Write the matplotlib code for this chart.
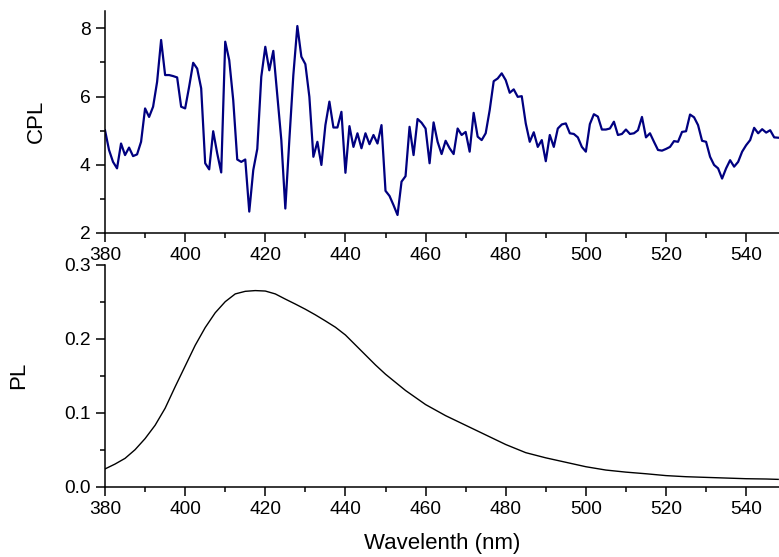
import numpy as np
import matplotlib
matplotlib.use("Agg")
import matplotlib.pyplot as plt
from matplotlib.ticker import MultipleLocator, FormatStrFormatter

plt.rcParams['font.family'] = ['Liberation Sans', 'DejaVu Sans']

# CPL spectrum, 1 nm steps from 380 to 548 nm
cpl_wl = np.arange(380, 549)
cpl = [
    5.01, 4.43, 4.08, 3.89, 4.62, 4.28, 4.50, 4.25, 4.30, 4.67,   # 380-389
    5.65, 5.40, 5.70, 6.43, 7.66, 6.63, 6.63, 6.60, 6.56, 5.70,   # 390-399
    5.65, 6.29, 6.99, 6.82, 6.24, 4.04, 3.86, 4.98, 4.33, 3.77,   # 400-409
    7.61, 7.07, 5.89, 4.15, 4.08, 4.15, 2.62, 3.84, 4.46, 6.58,   # 410-419
    7.46, 6.77, 7.34, 6.04, 4.72, 2.71, 4.72, 6.63, 8.07, 7.17,   # 420-429
    6.95, 5.99, 4.23, 4.67, 3.99, 5.16, 5.85, 5.09, 5.09, 5.55,   # 430-439
    3.76, 5.13, 4.52, 4.92, 4.48, 4.92, 4.60, 4.87, 4.62, 5.16,   # 440-449
    3.23, 3.08, 2.81, 2.52, 3.50, 3.66, 5.11, 4.28, 5.34, 5.23,   # 450-459
    5.06, 4.04, 5.24, 4.67, 4.31, 4.70, 4.48, 4.31, 5.06, 4.87,   # 460-469
    4.96, 4.38, 5.52, 4.82, 4.72, 4.92, 5.60, 6.45, 6.53, 6.68,   # 470-479
    6.48, 6.11, 6.21, 5.99, 6.01, 5.21, 4.67, 4.95, 4.52, 4.72,   # 480-489
    4.10, 4.87, 4.52, 5.06, 5.18, 5.21, 4.92, 4.90, 4.80, 4.52,   # 490-499
    4.38, 5.19, 5.48, 5.41, 5.03, 5.03, 5.06, 5.26, 4.87, 4.90,   # 500-509
    5.03, 4.90, 4.92, 5.01, 5.40, 4.80, 4.92, 4.67, 4.43, 4.41,   # 510-519
    4.46, 4.52, 4.69, 4.67, 4.96, 4.98, 5.47, 5.39, 5.16, 4.70,   # 520-529
    4.67, 4.23, 3.99, 3.89, 3.59, 3.89, 4.13, 3.94, 4.08, 4.38,   # 530-539
    4.57, 4.72, 5.08, 4.92, 5.04, 4.94, 5.01, 4.80, 4.79,         # 540-548
]

# PL spectrum
pl_wl = [380, 382.5, 385, 387.5, 390, 392.5, 395, 397.5, 400, 402.5, 405,
         407.5, 410, 412.5, 415, 417.5, 420, 422.5, 425, 427.5, 430, 432.5,
         435, 437.5, 440, 442.5, 445, 447.5, 450, 455, 460, 465, 470, 475,
         480, 485, 490, 495, 500, 505, 510, 515, 520, 525, 530, 535, 540,
         545, 548]
pl = [0.024, 0.0306, 0.0383, 0.050, 0.065, 0.083, 0.106, 0.135, 0.163,
      0.191, 0.215, 0.235, 0.250, 0.2605, 0.264, 0.265, 0.2644, 0.2605,
      0.2535, 0.2468, 0.2398, 0.2322, 0.2240, 0.2155, 0.2050, 0.1915, 0.1780,
      0.1645, 0.152, 0.130, 0.111, 0.096, 0.083, 0.070, 0.057, 0.046, 0.039,
      0.033, 0.027, 0.0225, 0.0197, 0.0175, 0.015, 0.0135, 0.0126, 0.0117,
      0.0108, 0.0104, 0.0099]

fig = plt.figure(figsize=(7.79, 5.57), dpi=100)
ax1 = fig.add_axes([0.1348, 0.5822, 0.8652, 0.3986])
ax2 = fig.add_axes([0.1348, 0.1262, 0.8652, 0.3986])

ax1.plot(cpl_wl, cpl, color='#000080', lw=1.6)
ax2.plot(pl_wl, pl, color='black', lw=1.0)

ax1.set_ylim(2, 8.52)
ax1.yaxis.set_major_locator(MultipleLocator(2))
ax1.yaxis.set_minor_locator(MultipleLocator(1))
ax2.set_ylim(0, 0.3)
ax2.yaxis.set_major_locator(MultipleLocator(0.1))
ax2.yaxis.set_minor_locator(MultipleLocator(0.05))
ax2.yaxis.set_major_formatter(FormatStrFormatter('%.1f'))

for ax in (ax1, ax2):
    ax.set_xlim(380, 548.2)
    ax.xaxis.set_major_locator(MultipleLocator(20))
    ax.xaxis.set_minor_locator(MultipleLocator(10))
    ax.spines['top'].set_visible(False)
    ax.spines['right'].set_visible(False)
    ax.spines['left'].set_linewidth(1.1)
    ax.spines['bottom'].set_linewidth(1.1)
    ax.tick_params(which='major', direction='out', length=6.5, width=1.1,
                   labelsize=13.8, pad=4)
    ax.tick_params(which='minor', direction='out', length=3.6, width=1.1)

ax1.set_ylabel("CPL", fontsize=16)
ax2.set_ylabel("PL", fontsize=16)
ax1.yaxis.set_label_coords(-0.086, 0.5)
ax2.yaxis.set_label_coords(-0.113, 0.5)
ax2.set_xlabel("Wavelenth (nm)", fontsize=16)
ax2.xaxis.set_label_coords(0.5, -0.21)

fig.savefig("out.png", dpi=100)
